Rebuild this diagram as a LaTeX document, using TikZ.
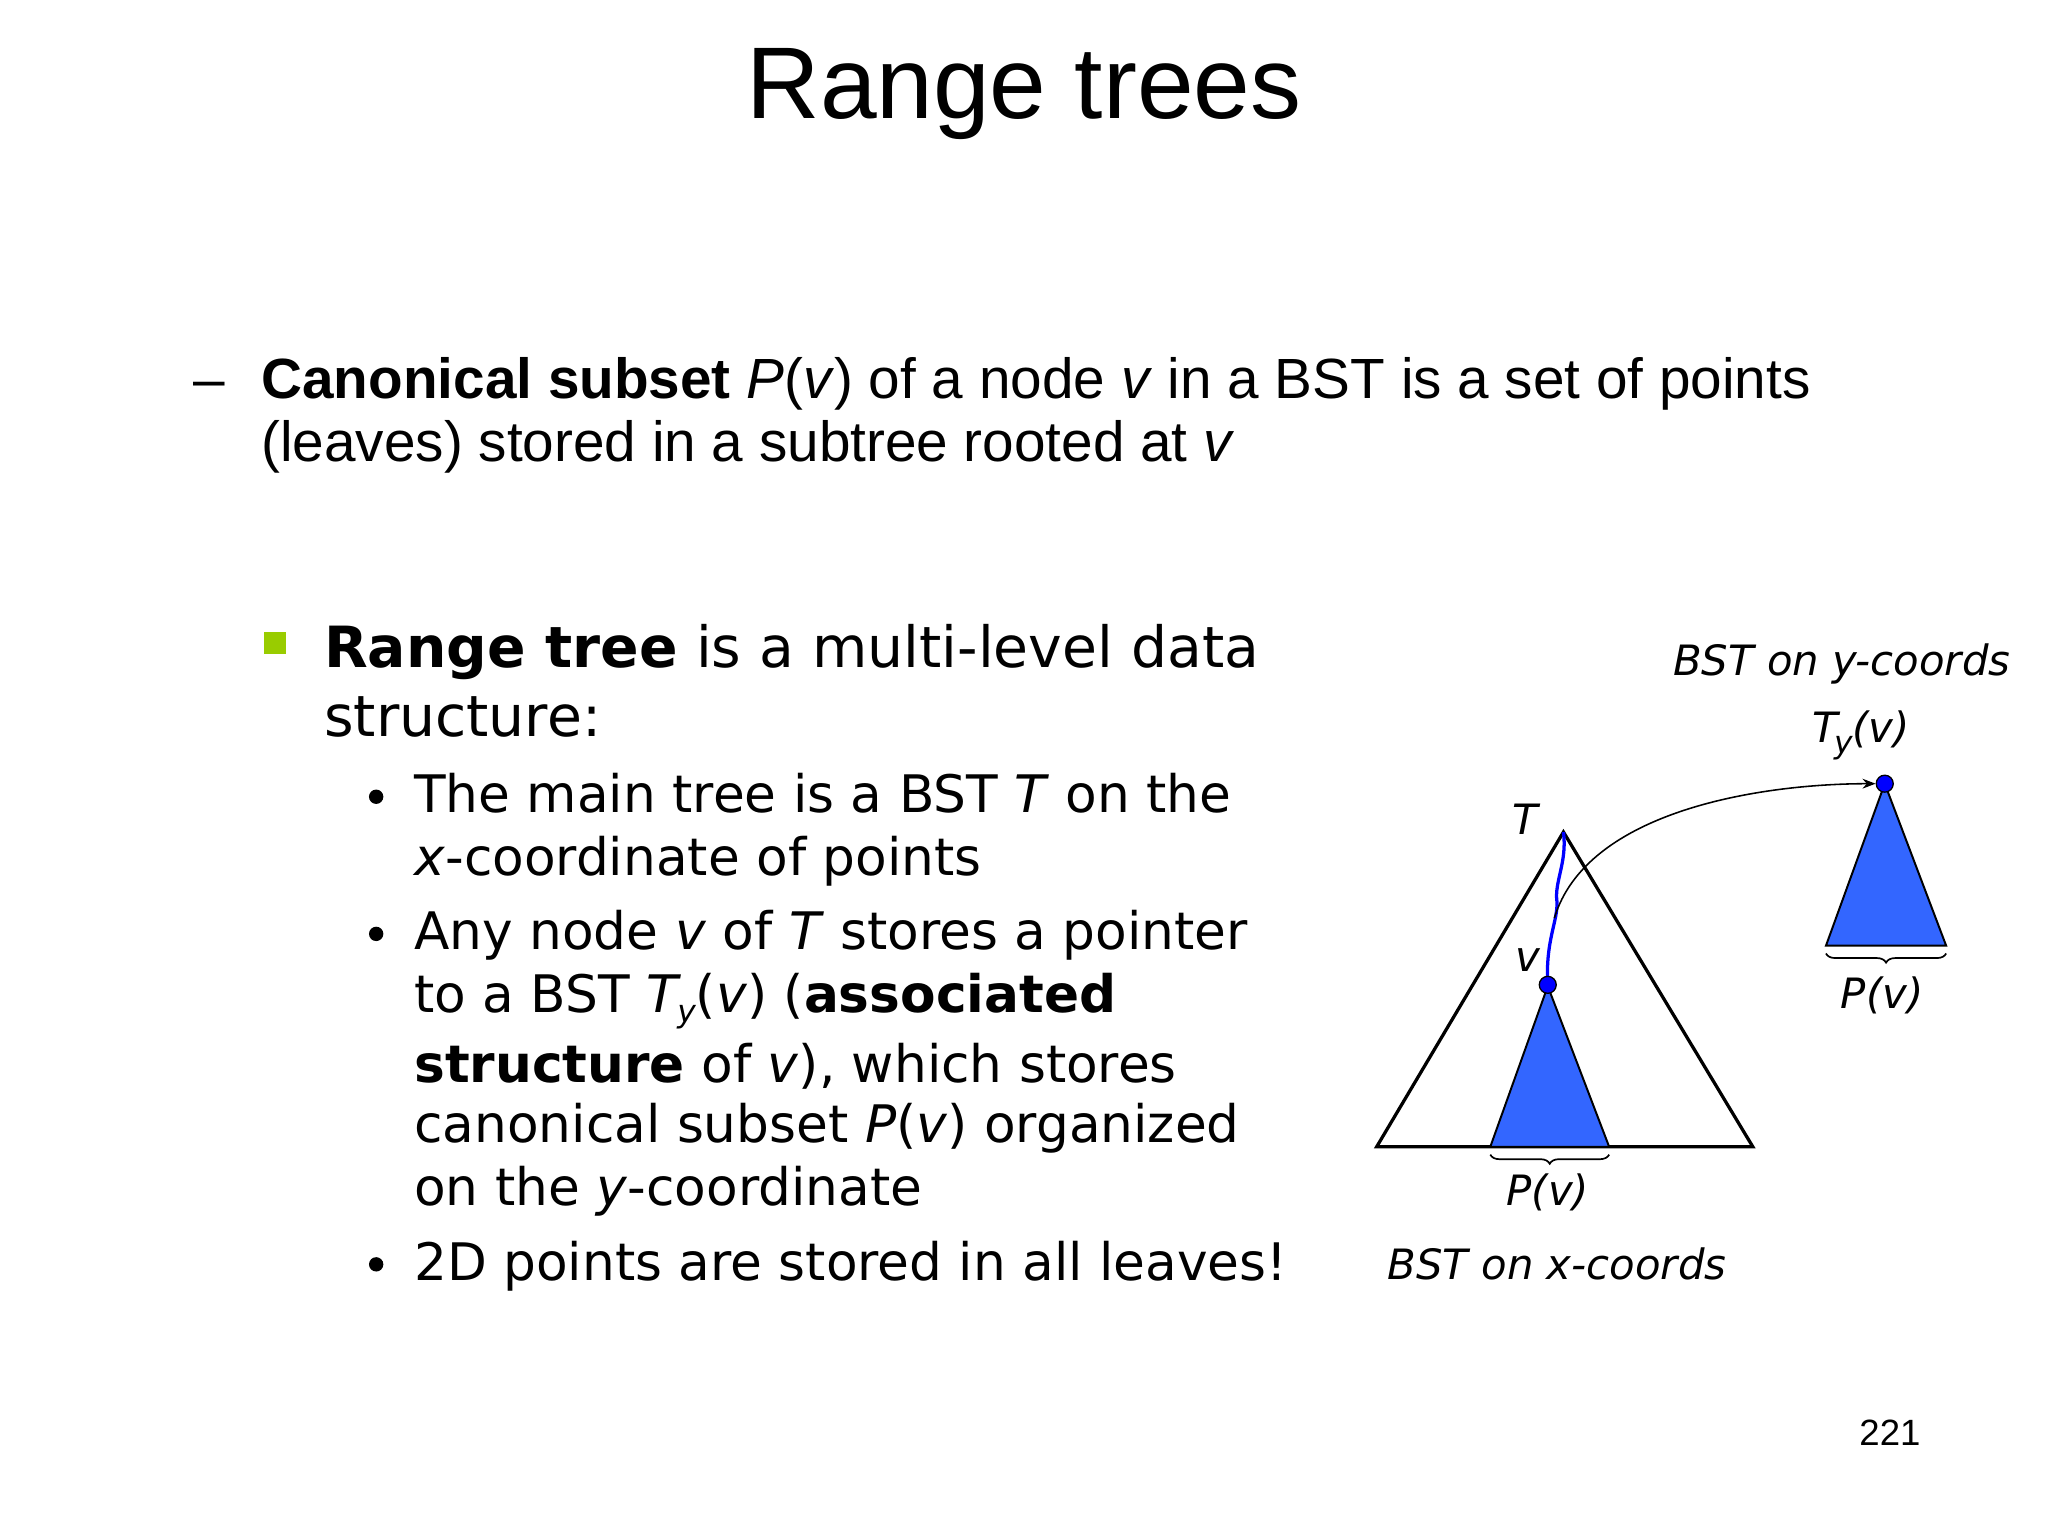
\documentclass[tikz,border=0pt]{standalone}
\usepackage{fontspec}
\setmainfont{Liberation Sans}
\newfontfamily\verd{DejaVu Sans}
\usetikzlibrary{decorations.pathreplacing,arrows.meta}
\definecolor{tblue}{RGB}{51,102,255}
\definecolor{lgreen}{RGB}{153,204,0}
\newcommand{\ysub}{\raisebox{-8pt}{\fontsize{24}{24}\selectfont\itshape y}}
\tikzset{
 txt/.style={anchor=base west,inner sep=0pt,font=\fontsize{43.4}{48}\selectfont},
 vtxt/.style={anchor=base west,inner sep=0pt,font=\verd\fontsize{43.5}{46}\selectfont},
 stxt/.style={anchor=base west,inner sep=0pt,font=\verd\fontsize{39.6}{42}\selectfont},
 lab/.style={inner sep=0pt,font=\verd\itshape\fontsize{32}{38}\selectfont},
 tri/.style={draw,line width=2.5pt,line join=miter},
 btri/.style={draw,fill=tblue,line width=1.5pt},
 dot/.style={circle,fill=blue,draw=black,line width=1pt,minimum size=13pt,inner sep=0pt},
 brace/.style={decorate,decoration={brace,mirror,amplitude=7pt},line width=1.3pt}
}
\begin{document}
\begin{tikzpicture}[x=1pt,y=-1pt]
\useasboundingbox (0,0) rectangle (1568,1176);
\node[inner sep=0pt,font=\fontsize{78}{84}\selectfont] (title) at (784,72) {Range trees};
\node[txt] (dash) at (148,305) {–};
\node[txt] (l1) at (200,305) {\textbf{Canonical subset} \textit{P}(\textit{v}) of a node \textit{v} in a BST is a set of points};
\node[txt] (l2) at (200,353) {(leaves) stored in a subtree rooted at \textit{v}};
\fill[lgreen] (202,484) rectangle (219,501);
\node[vtxt] (r1) at (248,511) {\textbf{Range tree} is a multi-level data};
\node[vtxt] (r2) at (248,564) {structure:};
\foreach \y in {610,715,968} \fill (288,\y) circle (5.5);
\node[stxt] at (317,622) {The main tree is a BST \textit{T} on the};
\node[stxt] at (317,670) {\textit{x}-coordinate of points};
\node[stxt] at (317,727) {Any node \textit{v} of \textit{T} stores a pointer};
\node[stxt] at (317,775) {to a BST \textit{T}\kern-3pt\ysub(\textit{v}) (\textbf{associated}};
\node[stxt] at (317,829) {\textbf{structure} of \textit{v}), which stores};
\node[stxt] at (317,875) {canonical subset \textit{P}(\textit{v}) organized};
\node[stxt] at (317,923) {on the \textit{y}-coordinate};
\node[stxt] at (317,980) {2D points are stored in all leaves!};
% main tree
\coordinate (apex) at (1197,637);
\draw[tri] (apex) -- (1342,878) -- (1054,878) -- cycle;
\draw[btri] (1185,755) -- (1232,878) -- (1141,878) -- cycle;
\draw[blue,line width=2.5pt] (apex) .. controls (1200,660) and (1190,675) .. (1192,690) .. controls (1193,705) and (1183,720) .. (1185,754);
\node[dot] (v) at (1185,754) {};
\node[lab] at (1168,627) {T};
\node[lab] at (1170,735) {v};
\draw[brace] (1141,884) -- (1232,884);
\node[lab] at (1185,913) {P(v)};
\node[lab] at (1192,968) {BST on x-coords};
% associated tree
\draw[btri] (1443,600) -- (1490,724) -- (1398,724) -- cycle;
\node[dot] (ty) at (1443,600) {};
\draw[brace] (1398,730) -- (1490,730);
\node[lab] at (1441,762) {P(v)};
\node[lab] at (1425,563) {T\kern-3pt\ysub(v)};
\node[lab] at (1410,508) {BST on y-coords};
\coordinate (start) at (1190,703);
\draw[-{Stealth[length=10pt]},line width=1.2pt] (start) .. controls (1215,620) and (1350,600) .. (ty.west);
\node[inner sep=0pt,font=\fontsize{28}{32}\selectfont] at (1447,1097) {221};
\end{tikzpicture}
\end{document}
